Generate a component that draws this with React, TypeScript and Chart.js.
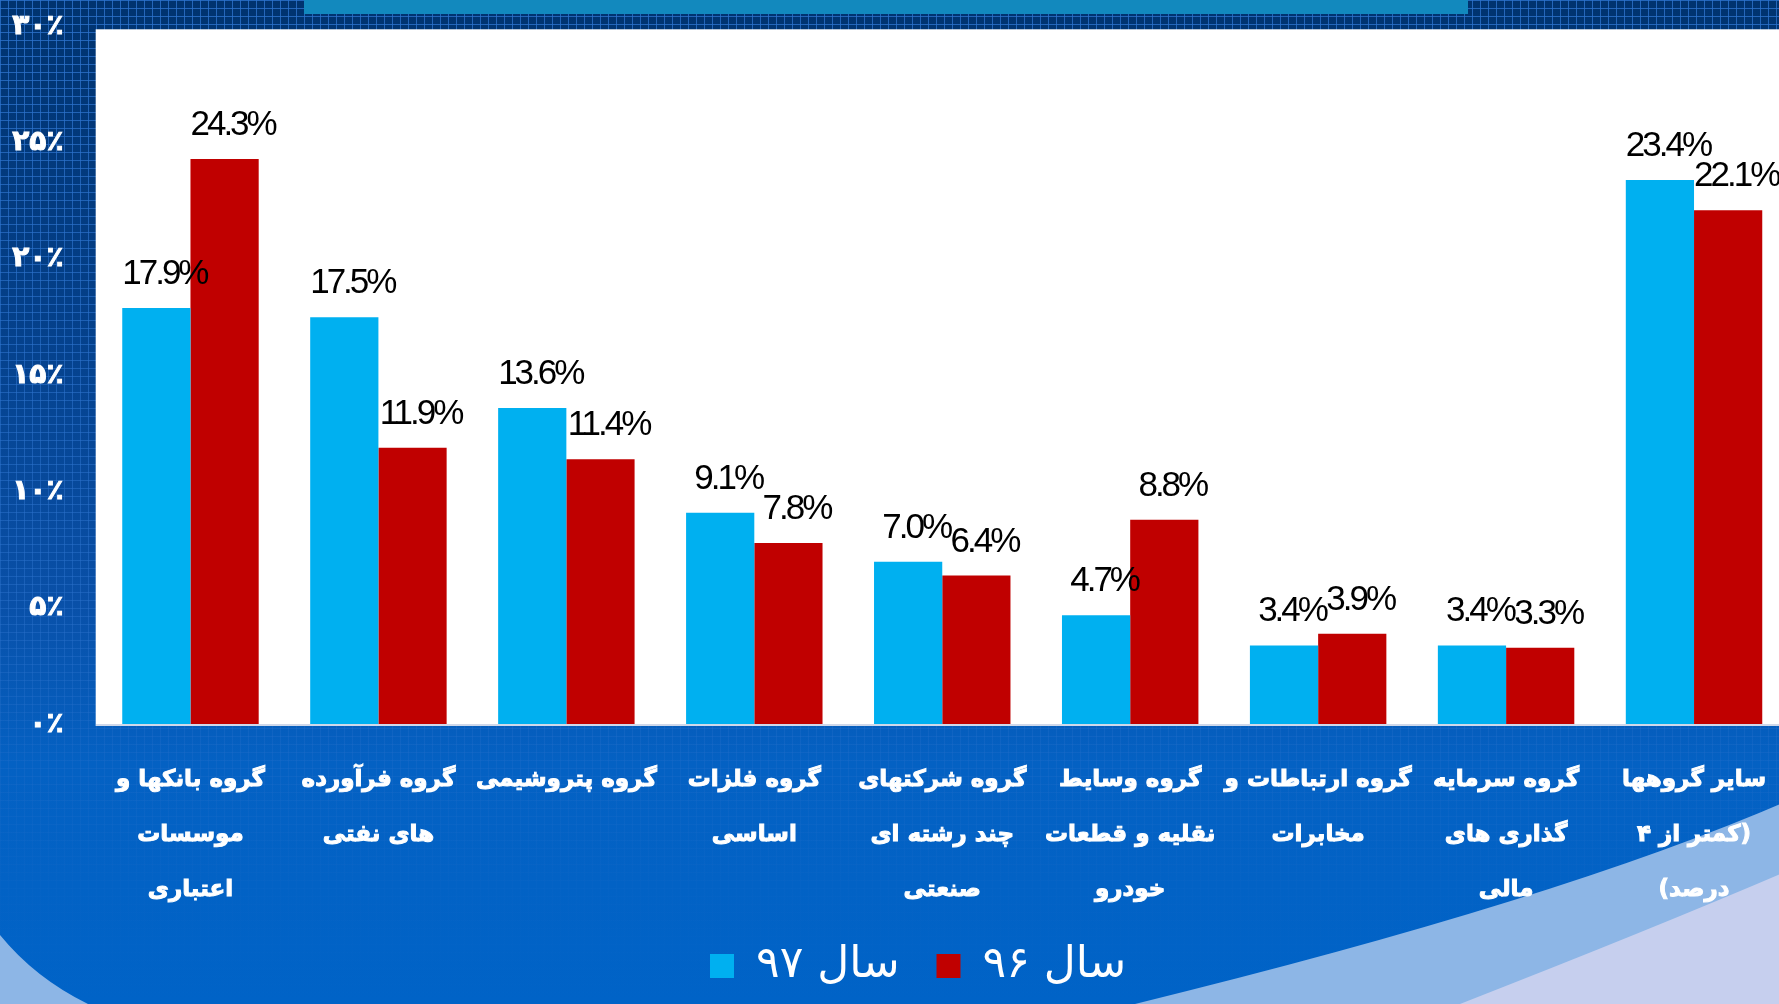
import React, { useEffect, useRef } from 'react';
import { Chart, registerables } from 'chart.js';

Chart.register(...registerables);

const categories: string[][] = [
  ['گروه بانکها و', 'موسسات', 'اعتباری'],
  ['گروه فرآورده', 'های نفتی'],
  ['گروه پتروشیمی'],
  ['گروه فلزات', 'اساسی'],
  ['گروه شرکتهای', 'چند رشته ای', 'صنعتی'],
  ['گروه وسایط', 'نقلیه و قطعات', 'خودرو'],
  ['گروه ارتباطات و', 'مخابرات'],
  ['گروه سرمایه', 'گذاری های', 'مالی'],
  ['سایر گروهها', '(کمتر از ۴', 'درصد)'],
];
const year97: number[] = [17.9, 17.5, 13.6, 9.1, 7.0, 4.7, 3.4, 3.4, 23.4];
const year96: number[] = [24.3, 11.9, 11.4, 7.8, 6.4, 8.8, 3.9, 3.3, 22.1];
const seriesNames: string[] = ['سال ۹۷', 'سال ۹۶'];
const seriesColors: string[] = ['#00B0F0', '#C00000'];
const yMin = 0;
const yMax = 30;
const yStep = 5;

const persianDigits = '۰۱۲۳۴۵۶۷۸۹';
const toPersian = (n: number | string) =>
  String(n).replace(/[0-9]/g, (d) => persianDigits[Number(d)]);

const backdropPlugin = {
  id: 'backdrop',
  afterLayout(chart: any) {
    // centre the legend row where the slide has it
    const l = chart.legend;
    if (l) {
      l.left += 24;
      l.right += 24;
    }
  },
  beforeDraw(chart: any) {
    const { ctx, width, height, chartArea } = chart;
    ctx.save();
    const g = ctx.createLinearGradient(0, 0, 0, height);
    g.addColorStop(0, '#00336f');
    g.addColorStop(0.3, '#043f88');
    g.addColorStop(0.6, '#0950a8');
    g.addColorStop(0.76, '#0461c3');
    g.addColorStop(1, '#0063c7');
    ctx.fillStyle = g;
    ctx.fillRect(0, 0, width, height);

    const lg = ctx.createLinearGradient(0, 0, 0, height);
    lg.addColorStop(0, 'rgba(45,115,205,0.8)');
    lg.addColorStop(0.6, 'rgba(45,115,205,0.45)');
    lg.addColorStop(0.9, 'rgba(45,115,205,0.05)');
    lg.addColorStop(1, 'rgba(45,115,205,0)');
    ctx.strokeStyle = lg;
    ctx.lineWidth = 1;
    ctx.beginPath();
    for (let x = 0.5; x < width; x += 8) {
      ctx.moveTo(x, 0);
      ctx.lineTo(x, height);
    }
    for (let y = 0.5; y < height; y += 8) {
      ctx.moveTo(0, y);
      ctx.lineTo(width, y);
    }
    ctx.stroke();

    // bottom swooshes
    ctx.fillStyle = '#8db6e6';
    ctx.beginPath();
    ctx.moveTo(1135, height);
    ctx.quadraticCurveTo(1560, 900, 1790, 800);
    ctx.lineTo(1790, height);
    ctx.closePath();
    ctx.fill();

    ctx.fillStyle = '#c6cfee';
    ctx.beginPath();
    ctx.moveTo(1460, height);
    ctx.quadraticCurveTo(1650, 930, 1790, 870);
    ctx.lineTo(1790, height);
    ctx.closePath();
    ctx.fill();

    ctx.fillStyle = '#8db6e6';
    ctx.beginPath();
    ctx.moveTo(0, 935);
    ctx.quadraticCurveTo(35, 978, 88, height);
    ctx.lineTo(0, height);
    ctx.closePath();
    ctx.fill();

    // top bar
    ctx.fillStyle = '#1289be';
    ctx.fillRect(304, 0, 1164, 14);

    // white plot area
    ctx.fillStyle = '#ffffff';
    ctx.fillRect(
      chartArea.left - 0.8,
      chartArea.top + 2.8,
      width,
      chartArea.bottom - chartArea.top - 1.3
    );
    ctx.restore();
  },
};

const valueLabelPlugin = {
  id: 'valueLabels',
  afterDatasetsDraw(chart: any) {
    const { ctx } = chart;
    ctx.save();
    ctx.font = '35px "Liberation Sans", Arial, sans-serif';
    try {
      ctx.letterSpacing = '-3px';
    } catch (e) {}
    ctx.direction = 'ltr';
    ctx.fillStyle = '#000000';
    ctx.textAlign = 'center';
    ctx.textBaseline = 'alphabetic';
    chart.data.datasets.forEach((ds: any, di: number) => {
      const meta = chart.getDatasetMeta(di);
      meta.data.forEach((bar: any, i: number) => {
        const v = ds.data[i] as number;
        ctx.fillText(v.toFixed(1) + '%', bar.x + 8, bar.y - 24);
      });
    });
    ctx.restore();
  },
};

export default function App() {
  const canvasRef = useRef<HTMLCanvasElement | null>(null);

  useEffect(() => {
    const canvas = canvasRef.current;
    if (!canvas) return;
    const chart = new Chart(canvas, {
      type: 'bar',
      data: {
        labels: categories,
        datasets: [
          {
            label: seriesNames[0],
            data: year97,
            backgroundColor: seriesColors[0],
            borderWidth: 0,
            categoryPercentage: 0.726,
            barPercentage: 1,
          },
          {
            label: seriesNames[1],
            data: year96,
            backgroundColor: seriesColors[1],
            borderWidth: 0,
            categoryPercentage: 0.726,
            barPercentage: 1,
          },
        ],
      },
      options: {
        responsive: false,
        animation: false,
        devicePixelRatio: 1,
        layout: { padding: { left: 0, right: 0, top: 26.5, bottom: 6 } },
        plugins: {
          legend: {
            position: 'bottom',
            labels: {
              color: '#ffffff',
              font: { family: '"DejaVu Sans", sans-serif', size: 44 },
              boxWidth: 24,
              boxHeight: 24,
              padding: 37,
            },
          },
          tooltip: { enabled: false },
        },
        scales: {
          x: {
            grid: {
              display: true,
              drawOnChartArea: false,
              drawTicks: true,
              tickLength: 28,
              color: 'rgba(0,0,0,0)',
            },
            border: { display: true, color: '#cfd8ea', width: 2 },
            ticks: {
              color: '#ffffff',
              textStrokeColor: '#ffffff',
              textStrokeWidth: 1,
              font: {
                family: '"DejaVu Sans", sans-serif',
                weight: 'bold',
                size: 23,
                lineHeight: '55px',
              },
              padding: 0,
              maxRotation: 0,
              minRotation: 0,
              autoSkip: false,
            },
            afterFit: (s: any) => {
              s.height = 182.5;
            },
          },
          y: {
            min: yMin,
            max: yMax,
            grid: {
              display: true,
              drawOnChartArea: false,
              drawTicks: true,
              tickLength: 33,
              color: 'rgba(0,0,0,0)',
            },
            border: { display: false },
            ticks: {
              stepSize: yStep,
              color: '#ffffff',
              textStrokeColor: '#ffffff',
              textStrokeWidth: 1,
              font: { family: '"DejaVu Sans", sans-serif', weight: 'bold', size: 28 },
              padding: 0,
              callback: (v: any) => toPersian(v) + '٪',
            },
            afterFit: (s: any) => {
              s.width = 96.5;
            },
          },
        },
      },
      plugins: [backdropPlugin, valueLabelPlugin],
    });
    return () => chart.destroy();
  }, []);

  return (
    <div
      style={{
        position: 'fixed',
        left: 0,
        top: 0,
        width: 1779,
        height: 1004,
        overflow: 'hidden',
      }}
    >
      <canvas
        ref={canvasRef}
        width={1788}
        height={1004}
        style={{ display: 'block', width: 1788, height: 1004, direction: 'rtl' }}
      />
    </div>
  );
}
